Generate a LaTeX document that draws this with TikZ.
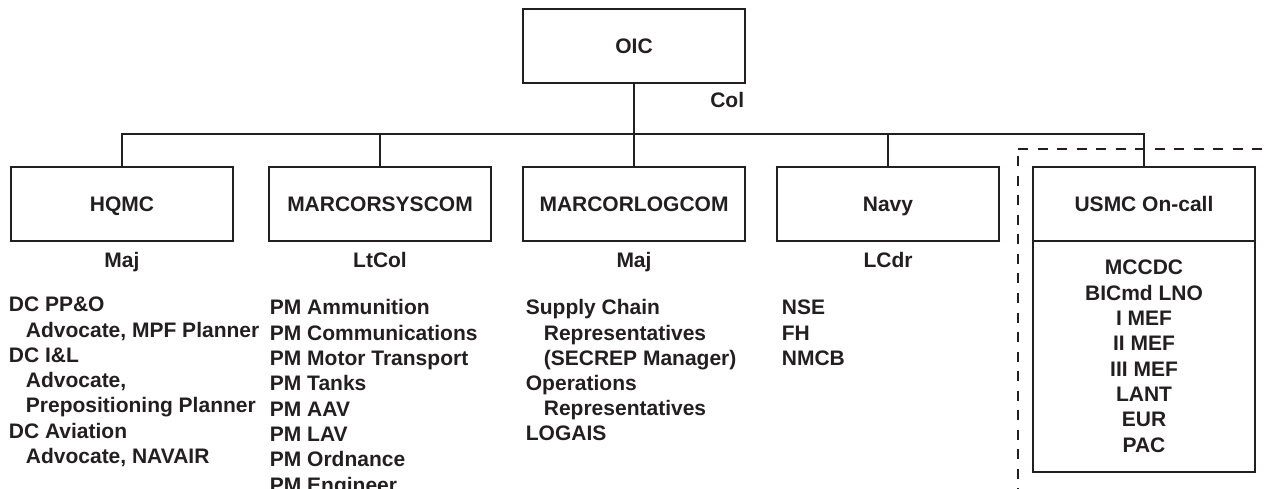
\documentclass[tikz,border=0pt]{standalone}
\usepackage{fontspec}
\setmainfont{Liberation Sans}
\usetikzlibrary{positioning}
\definecolor{ink}{RGB}{35,31,32}
\newcommand{\chartfont}{\bfseries\fontsize{21}{25}\selectfont}

\begin{document}
\begin{tikzpicture}[x=1pt, y=-1pt, draw=ink, text=ink, line width=1.8pt,
        unit/.style={draw, minimum width=222pt, minimum height=74pt, inner sep=0pt,
            outer sep=0pt, text height=15pt, text depth=0pt, font=\chartfont},
        rank/.style={inner sep=0pt, font=\chartfont},
        entry/.style={anchor=base west, inner sep=0pt, font=\chartfont},
        sep/.style={dash pattern=on 10pt off 9.5pt}]
    \useasboundingbox (0,0) rectangle (1267,489);
    \clip (0,0) rectangle (1267,489);
    % top of the chart
    \node[unit] (oic) at (634,46) {OIC};
    \node[rank, anchor=base east] (col) at ([yshift=-25pt]oic.south east) {Col};
    % second row
    \foreach \name/\x/\txt in {hqmc/122/HQMC, syscom/380/MARCORSYSCOM, logcom/634/MARCORLOGCOM,
            navy/888/Navy, usmc/1144/USMC On-call}
        \node[unit] (\name) at (\x,204) {\txt};
    \node[unit, minimum height=231pt, anchor=north] (usmc-body) at (usmc.south) {};
    \foreach \name/\txt in {hqmc/Maj, syscom/LtCol, logcom/Maj, navy/LCdr}
        \node[rank, anchor=base] (\name-rank) at ([yshift=-27pt]\name.south) {\txt};
    % connectors
    \coordinate (bus) at (634,134);
    \draw (oic) -- (logcom);
    \draw (hqmc.north) -- (hqmc.north |- bus) -- (usmc.north |- bus) -- (usmc.north);
    \foreach \name in {syscom, navy}
        \draw (\name.north) -- (\name.north |- bus);
    % dashed fence round the on-call group
    \coordinate (fence) at (1018,149);
    \coordinate (fence-r) at (1267,149);
    \coordinate (fence-b) at (1018,489);
    \draw[sep] (fence) -- (fence-r);
    \draw[sep, dash phase=12pt] (fence) -- (fence-b);
    % lists
    \foreach \dx/\txt [count=\i from 0] in {0/DC PP\&O, 17/{Advocate, MPF Planner}, 0/DC I\&L,
            17/{Advocate,}, 17/Prepositioning Planner, 0/DC Aviation, 17/{Advocate, NAVAIR}}
        \node[entry] (hq-\i) at (8+\dx, 312+25.2*\i) {\txt};
    \foreach \txt [count=\i from 0] in {Ammunition, Communications, Motor Transport, Tanks,
            AAV, LAV, Ordnance, Engineer}
        \node[entry] (pm-\i) at (269, 315+25.3*\i) {PM \txt};
    \foreach \dx/\txt [count=\i from 0] in {0/Supply Chain, 18/Representatives, 18/(SECREP Manager),
            0/Operations, 18/Representatives, 0/LOGAIS}
        \node[entry] (log-\i) at (525+\dx, 315+25*\i) {\txt};
    \foreach \txt [count=\i from 0] in {NSE, FH, NMCB}
        \node[entry] (nav-\i) at (781, 315+25*\i) {\txt};
    \foreach \txt [count=\i from 0] in {MCCDC, BICmd LNO, I MEF, II MEF, III MEF, LANT, EUR, PAC}
        \node[rank, anchor=base] (oncall-\i) at (1144, 275+25.3*\i) {\txt};
\end{tikzpicture}
\end{document}
